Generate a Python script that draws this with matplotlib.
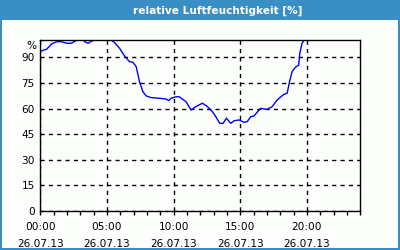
import matplotlib

matplotlib.use("Agg")
import matplotlib.pyplot as plt  # noqa: E402
from matplotlib.patches import Rectangle  # noqa: E402

# Stunden seit 00:00 und relative Luftfeuchtigkeit (%), Werte > 100 werden abgeschnitten
hours = [0.0, 0.48, 0.85, 1.22, 1.6, 1.97, 2.34, 2.66, 2.8, 3.2, 3.33, 3.58, 3.96,
         4.1, 5.2, 5.33, 5.57, 5.95, 6.32, 6.69, 6.94, 7.19, 7.44, 7.69, 7.94,
         8.31, 8.93, 9.43, 9.63, 9.8, 10.18, 10.42, 10.93, 11.3, 11.67, 11.9,
         12.16, 12.54, 12.91, 13.16, 13.46, 13.71, 13.96, 14.28, 14.53, 14.9,
         15.28, 15.52, 15.78, 16.02, 16.52, 17.01, 17.39, 17.76, 18.26, 18.51,
         18.69, 18.88, 19.13, 19.38, 19.46, 19.63, 19.78, 19.85]
humidity = [93.6, 94.8, 97.9, 99.2, 99.2, 98.3, 98.3, 99.8, 101, 101, 99.2, 98.3, 100,
            101, 101, 100, 98.7, 95.3, 90.8, 87.5, 87.1, 84.6, 75.7, 69.9, 67.4,
            66.4, 66.0, 65.6, 64.6, 66.0, 66.9, 66.9, 64.0, 59.1, 61.1, 62.1,
            63.1, 61.1, 58.1, 55.2, 51.3, 51.3, 54.3, 51.3, 52.8, 53.3,
            51.9, 52.3, 55.2, 55.6, 60.1, 59.5, 61.1, 65.0, 68.3, 68.9,
            75.7, 81.6, 84.2, 85.5, 92.4, 98.3, 100, 101]

y_ticks = [0, 15, 30, 45, 60, 75, 90]
x_ticks = [0, 5, 10, 15, 20]
x_labels = ["00:00\n26.07.13", "05:00\n26.07.13", "10:00\n26.07.13",
            "15:00\n26.07.13", "20:00\n26.07.13"]
title = "relative Luftfeuchtigkeit [%]"

BLUE = "#3a8ec6"

fig = plt.figure(figsize=(4, 2.5), dpi=100, facecolor=BLUE)
# weisses Panel unter dem Titelbalken
fig.patches.append(Rectangle((0.005, 0.008), 0.99, 0.912, transform=fig.transFigure,
                             facecolor="#fcfffc", edgecolor="none", zorder=-10))
fig.text(0.544, 0.958, title, color="white", fontsize=7.6, fontweight="bold",
         ha="center", va="center", family="DejaVu Sans")

ax = fig.add_axes([0.1008, 0.157, 0.8, 0.6816])
ax.set_zorder(5)
ax.set_facecolor("#fcfffc")
ax.plot(hours, humidity, color="#0000ff", lw=1, clip_on=True)
ax.set_xlim(0, 24)
ax.set_ylim(0, 100)

ax.set_yticks(y_ticks)
ax.set_xticks(x_ticks)
ax.set_xticklabels(x_labels, linespacing=1.85)
ax.set_xticks(range(0, 25), minor=True)
ax.tick_params(axis="y", length=0, labelsize=7.6, pad=4)
ax.tick_params(axis="x", which="both", length=3, width=1, direction="out",
               labelsize=7.6, pad=5)
ax.grid(True, color="black", linestyle=(0, (3, 3)), linewidth=1)
for s in ax.spines.values():
    s.set_linewidth(1)
    s.set_color("black")
ax.text(-0.013, 0.965, "%", transform=ax.transAxes, ha="right", va="center", fontsize=7.6)

fig.savefig("out.png", dpi=100, facecolor=fig.get_facecolor())
